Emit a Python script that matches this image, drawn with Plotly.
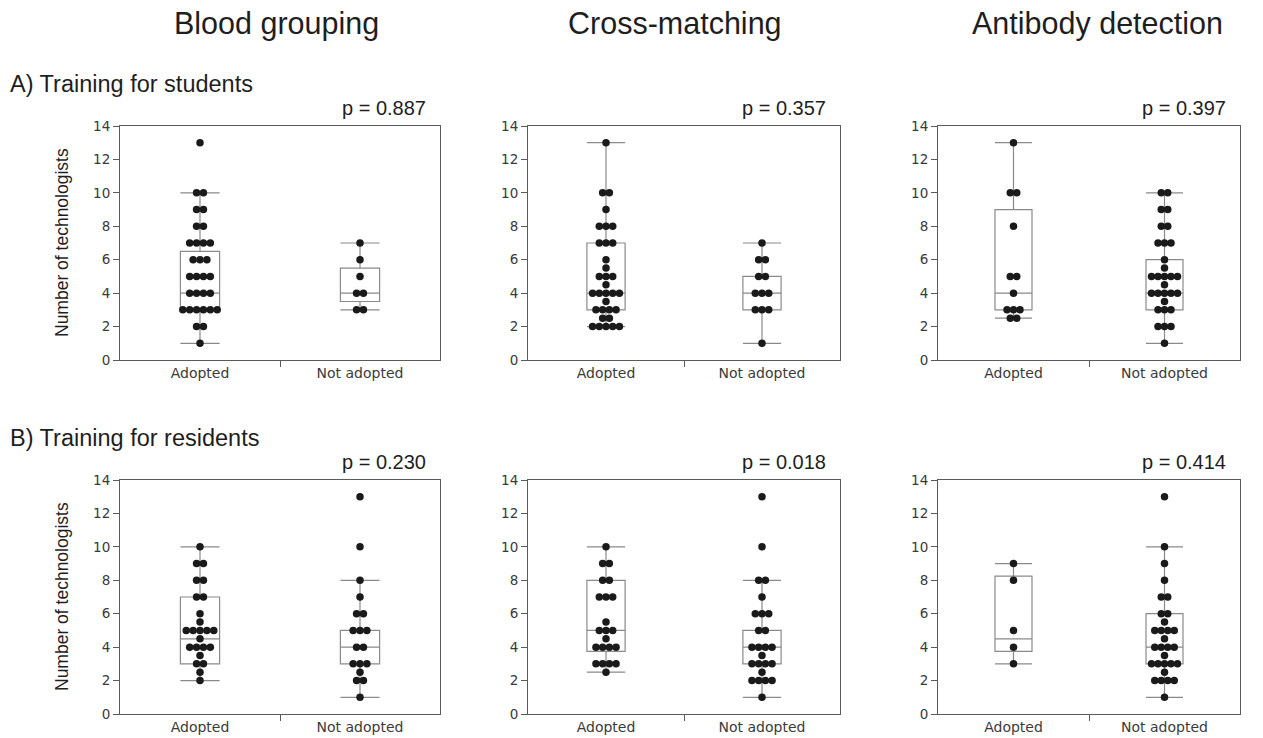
import plotly.graph_objects as go

# ---------------- data ----------------
categories = ["Adopted", "Not adopted"]
column_titles = ["Blood grouping", "Cross-matching", "Antibody detection"]
row_titles = ["A) Training for students", "B) Training for residents"]
p_values = [["p = 0.887", "p = 0.357", "p = 0.397"],
            ["p = 0.230", "p = 0.018", "p = 0.414"]]
y_ticks = [0, 2, 4, 6, 8, 10, 12, 14]

# A) Training for students
bg_students_adopted = [13, 10, 10, 9, 9, 8, 8, 7, 7, 7, 7, 6, 6, 6, 5, 5, 5, 5,
                       4, 4, 4, 4, 3, 3, 3, 3, 3, 3, 2, 2, 1]
bg_students_not = [7, 6, 5, 4, 4, 3, 3]
cm_students_adopted = [13, 10, 10, 9, 8, 8, 8, 7, 7, 7, 6, 5.5, 5, 5, 5, 4.5,
                       4, 4, 4, 4, 4, 3.5, 3, 3, 3, 3, 2.5, 2.5, 2, 2, 2, 2, 2]
cm_students_not = [7, 6, 6, 5, 5, 4, 4, 4, 3, 3, 3, 1]
ad_students_adopted = [13, 10, 10, 8, 5, 5, 4, 3, 3, 3, 2.5, 2.5]
ad_students_not = [10, 10, 9, 9, 8, 8, 7, 7, 7, 6, 5.5, 5, 5, 5, 5, 5, 4.5,
                   4, 4, 4, 4, 4, 3.5, 3, 3, 3, 2, 2, 2, 1]

# B) Training for residents
bg_residents_adopted = [10, 9, 9, 8, 8, 7, 7, 6, 5.5, 5, 5, 5, 5, 5, 4.5,
                        4, 4, 4, 4, 3.5, 3, 3, 2.5, 2]
bg_residents_not = [13, 10, 8, 7, 6, 6, 5, 5, 5, 4, 4, 3, 3, 3, 2.5, 2, 2, 1]
cm_residents_adopted = [10, 9, 9, 8, 8, 7, 7, 7, 5.5, 5, 5, 5, 4.5,
                        4, 4, 4, 4, 3, 3, 3, 3, 2.5]
cm_residents_not = [13, 10, 8, 8, 7, 6, 6, 6, 5, 5, 4, 4, 4, 4, 3.5,
                    3, 3, 3, 3, 2.5, 2, 2, 2, 2, 1]
ad_residents_adopted = [9, 8, 5, 4, 3]
ad_residents_not = [13, 10, 9, 8, 7, 7, 6, 6, 5.5, 5, 5, 5, 5, 4.5, 4, 4, 4, 4,
                    3.5, 3, 3, 3, 3, 3, 2.5, 2, 2, 2, 2, 1]

# box statistics: [q1, median, q3, lower whisker, upper whisker]
stats_bg_students = [[3, 4, 6.5, 1, 10], [3.5, 4, 5.5, 3, 7]]
stats_cm_students = [[3, 4, 7, 2, 13], [3, 4, 5, 1, 7]]
stats_ad_students = [[3, 4, 9, 2.5, 13], [3, 4, 6, 1, 10]]
stats_bg_residents = [[3, 4.5, 7, 2, 10], [3, 4, 5, 1, 8]]
stats_cm_residents = [[3.75, 5, 8, 2.5, 10], [3, 4, 5, 1, 8]]
stats_ad_residents = [[3.75, 4.5, 8.25, 3, 9], [3, 4, 6, 1, 10]]

panels = [
    [(bg_students_adopted, bg_students_not, stats_bg_students),
     (cm_students_adopted, cm_students_not, stats_cm_students),
     (ad_students_adopted, ad_students_not, stats_ad_students)],
    [(bg_residents_adopted, bg_residents_not, stats_bg_residents),
     (cm_residents_adopted, cm_residents_not, stats_cm_residents),
     (ad_residents_adopted, ad_residents_not, stats_ad_residents)],
]

# ---------------- layout constants (pixels) ----------------
W, H = 1263, 738
col_px = [(120, 440), (528, 840), (938, 1240)]
row_px = [(126, 360), (480, 714)]
col_title_x = [276, 675, 1097]
col_title_y = 23
row_title_y = [84, 438]
p_y_offset = 18

BOX_COLOR = "#8a8a8a"
DOT_COLOR = "#1a1a1a"
AXIS_COLOR = "#5a5a5a"
TEXT_COLOR = "#1e1e1e"
STEP = 0.043


def swarm(vals, center):
    xs, ys = [], []
    for v in sorted(set(vals), reverse=True):
        n = vals.count(v)
        for i in range(n):
            xs.append(center + (i - (n - 1) / 2) * STEP)
            ys.append(v)
    return xs, ys


fig = go.Figure()
layout_axes = {}
annotations = []

k = 0
for r in range(2):
    for c in range(3):
        k += 1
        xa = "x" if k == 1 else f"x{k}"
        ya = "y" if k == 1 else f"y{k}"
        adopted, not_adopted, stats = panels[r][c]
        for ci, (vals, st) in enumerate(zip([adopted, not_adopted], stats)):
            fig.add_trace(go.Box(
                x=[ci], q1=[st[0]], median=[st[1]], q3=[st[2]],
                lowerfence=[st[3]], upperfence=[st[4]],
                width=0.245, whiskerwidth=1,
                fillcolor="rgba(255,255,255,0)",
                line=dict(color=BOX_COLOR, width=1.2),
                boxpoints=False, showlegend=False, hoverinfo="skip",
                xaxis=xa, yaxis=ya))
        for ci, vals in enumerate([adopted, not_adopted]):
            xs, ys = swarm(vals, ci)
            fig.add_trace(go.Scatter(
                x=xs, y=ys, mode="markers",
                marker=dict(color=DOT_COLOR, size=7.5, line=dict(width=0)),
                showlegend=False, xaxis=xa, yaxis=ya))

        x0, x1 = col_px[c]
        y0, y1 = row_px[r]
        layout_axes["xaxis" if k == 1 else f"xaxis{k}"] = dict(
            domain=[x0 / W, x1 / W], anchor=ya, range=[-0.5, 1.5],
            automargin=False,
            tickvals=[0, 1], ticktext=categories, ticks="",
            minor=dict(tickvals=[0.5], ticks="outside", ticklen=6,
                       tickcolor=AXIS_COLOR, tickwidth=1),
            showline=True, linecolor=AXIS_COLOR, linewidth=1, mirror=True,
            showgrid=False, zeroline=False,
            tickfont=dict(family="DejaVu Sans", size=14, color="#3a3a3a"))
        layout_axes["yaxis" if k == 1 else f"yaxis{k}"] = dict(
            domain=[1 - y1 / H, 1 - y0 / H], anchor=xa, range=[0, 14],
            automargin=False,
            tickvals=y_ticks, ticks="outside", ticklen=6,
            tickcolor=AXIS_COLOR, showline=True, linecolor=AXIS_COLOR,
            linewidth=1, mirror=True, showgrid=False, zeroline=False,
            tickfont=dict(family="DejaVu Sans", size=13.5, color="#3a3a3a"))

        # p-value
        annotations.append(dict(
            text=p_values[r][c], xref="paper", yref="paper",
            x=(x1 - 12) / W, y=1 - (y0 - p_y_offset) / H, xanchor="right",
            yanchor="middle", showarrow=False,
            font=dict(family="Liberation Sans", size=20, color=TEXT_COLOR)))

# column titles
for c, t in enumerate(column_titles):
    annotations.append(dict(
        text=t, xref="paper", yref="paper", x=col_title_x[c] / W,
        y=1 - col_title_y / H, xanchor="center", yanchor="middle",
        showarrow=False,
        font=dict(family="Liberation Sans", size=30.5, color=TEXT_COLOR)))

# row titles
for r, t in enumerate(row_titles):
    annotations.append(dict(
        text=t, xref="paper", yref="paper", x=8 / W, y=1 - row_title_y[r] / H,
        xanchor="left", yanchor="middle", showarrow=False,
        font=dict(family="Liberation Sans", size=23.5, color=TEXT_COLOR)))

# y-axis titles
for r in range(2):
    y0, y1 = row_px[r]
    annotations.append(dict(
        text="Number of technologists", xref="paper", yref="paper",
        x=62 / W, y=1 - ((y0 + y1) / 2) / H, textangle=-90,
        xanchor="center", yanchor="middle", showarrow=False,
        font=dict(family="Liberation Sans", size=17.5, color=TEXT_COLOR)))

fig.update_layout(
    width=W, height=H, margin=dict(l=0, r=0, t=0, b=0, autoexpand=False),
    paper_bgcolor="white", plot_bgcolor="white",
    annotations=annotations, **layout_axes)

fig.write_html(
    "out.html",
    config={"displayModeBar": False},
    post_script="document.body.style.margin='0';document.body.style.overflow='hidden';")
